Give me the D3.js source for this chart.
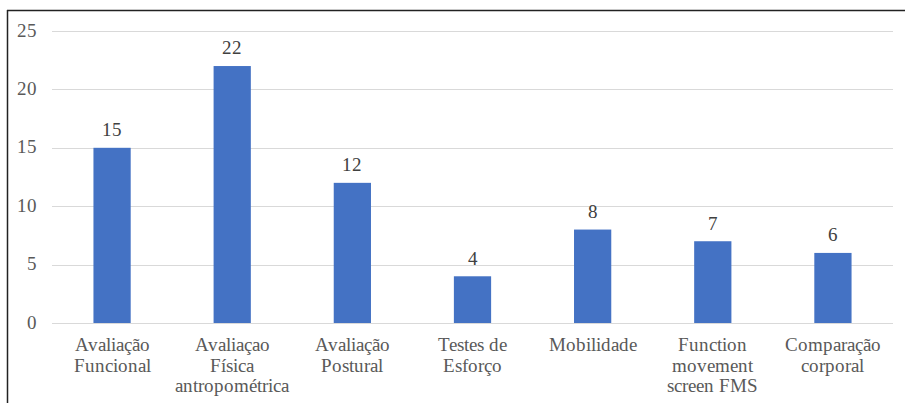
<!DOCTYPE html>
<html>
<head>
<meta charset="utf-8">
<script src="https://cdn.jsdelivr.net/npm/d3@7"></script>
<style>
  @font-face {
    font-family: "ChartSerif";
    src: local("Liberation Serif"), local("LiberationSerif"), local("LiberationSerif-Regular"), local("Tinos"), local("FreeSerif");
  }
  html, body { margin: 0; padding: 0; background: #fff; }
  #wrap { position: relative; width: 905px; height: 403px; overflow: hidden; }
  svg { display: block; position: absolute; left: 0; top: 0; }
  .lbl {
    position: absolute; white-space: nowrap;
    font-family: "ChartSerif", "Liberation Serif", serif;
    font-size: 19px; line-height: 20.5px;
  }
</style>
</head>
<body>
<div id="wrap"><svg id="chart" width="905" height="403"></svg></div>
<script>
// Number of studies per type of assessment
const categories = [
  ["Avaliação", "Funcional"],
  ["Avaliaçao", "Física", "antropométrica"],
  ["Avaliação", "Postural"],
  ["Testes de", "Esforço"],
  ["Mobilidade"],
  ["Function", "movement", "screen FMS"],
  ["Comparação", "corporal"]
];
const values = [15, 22, 12, 4, 8, 7, 6];
const yTicks = [0, 5, 10, 15, 20, 25];

(function draw() {
  const wrap = d3.select("#wrap");
  const svg = d3.select("#chart");
  const plotLeft = 52, plotRight = 893, plotTop = 31, plotBottom = 323;
  const baselineOffset = 16.7; // text top to baseline for the label style

  // Frame around the chart area (top and left edges visible)
  svg.append("line").attr("x1", 7).attr("x2", 905).attr("y1", 10.5).attr("y2", 10.5)
    .attr("stroke", "#222").attr("stroke-width", 1.5);
  svg.append("line").attr("x1", 7.5).attr("x2", 7.5).attr("y1", 10).attr("y2", 403)
    .attr("stroke", "#222").attr("stroke-width", 1.5);

  const x = d3.scaleBand().domain(d3.range(categories.length)).range([plotLeft, plotRight]).padding(0);
  const y = d3.scaleLinear().domain([0, 25]).range([plotBottom, plotTop]);
  const barW = x.bandwidth() * 0.31;
  const cx = i => x(i) + x.bandwidth() / 2;

  // Horizontal gridlines
  svg.append("g").selectAll("line").data(yTicks.filter(t => t > 0)).join("line")
    .attr("x1", plotLeft).attr("x2", plotRight)
    .attr("y1", d => Math.round(y(d)) + 0.5).attr("y2", d => Math.round(y(d)) + 0.5)
    .attr("stroke", "#d9d9d9").attr("stroke-width", 1);

  // Bars
  svg.append("g").selectAll("rect").data(values).join("rect")
    .attr("x", (d, i) => cx(i) - barW / 2)
    .attr("width", barW)
    .attr("y", d => y(d))
    .attr("height", d => y(0) - y(d))
    .attr("fill", "#4472c4");

  // Baseline
  svg.append("line").attr("x1", plotLeft).attr("x2", plotRight)
    .attr("y1", plotBottom + 0.5).attr("y2", plotBottom + 0.5)
    .attr("stroke", "#d9d9d9").attr("stroke-width", 1);

  // Y tick labels (right-aligned)
  wrap.selectAll("div.ytick").data(yTicks).join("div")
    .attr("class", "lbl ytick")
    .style("right", (905 - 37) + "px")
    .style("top", d => (y(d) + 6.3 - baselineOffset) + "px")
    .style("text-align", "right")
    .style("color", "#595959")
    .text(d => d);

  // Value labels above bars
  wrap.selectAll("div.val").data(values).join("div")
    .attr("class", "lbl val")
    .style("left", (d, i) => (cx(i) - 40) + "px")
    .style("width", "80px")
    .style("text-align", "center")
    .style("top", d => (y(d) - 11 - baselineOffset) + "px")
    .style("color", "#404040")
    .text(d => d);

  // Category labels (multi-line)
  wrap.selectAll("div.cat").data(categories).join("div")
    .attr("class", "lbl cat")
    .style("left", (d, i) => (cx(i) - 70) + "px")
    .style("width", "140px")
    .style("text-align", "center")
    .style("top", (352 - baselineOffset) + "px")
    .style("color", "#595959")
    .each(function(d) {
      const el = d3.select(this);
      d.forEach((line, k) => {
        if (k > 0) el.append("br");
        el.append("span").text(line);
      });
    });
})();
</script>
</body>
</html>
